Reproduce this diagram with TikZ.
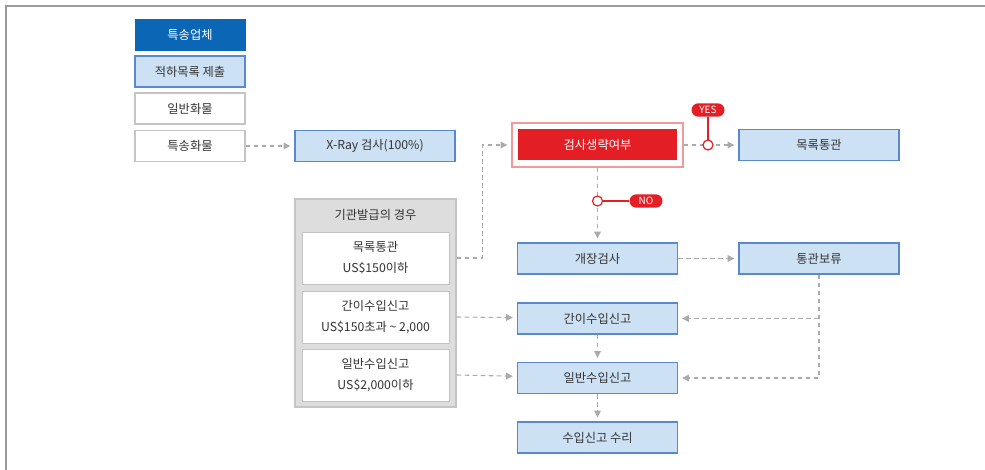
\documentclass[tikz,border=0pt]{standalone}
\usepackage{fontspec}
\setmainfont{Noto Sans CJK KR}
\usepackage{tikz}
\usetikzlibrary{arrows.meta}
\definecolor{cusInk}{HTML}{333333}
\definecolor{cusNavy}{HTML}{0B66B5}
\definecolor{cusSky}{HTML}{CDE1F5}
\definecolor{cusEdge}{HTML}{5A88CF}
\definecolor{cusRed}{HTML}{E31E24}
\definecolor{cusPink}{HTML}{F29A9A}
\definecolor{cusArrow}{HTML}{ABABAB}
\definecolor{cusPanel}{HTML}{DDDDDD}
\definecolor{cusPanelLine}{HTML}{C4C4C4}
\definecolor{cusFrame}{HTML}{9A9A9A}
\tikzset{
    company/.style={draw=cusNavy, fill=cusNavy, text=white, minimum width=82.5pt, minimum height=23.25pt, inner sep=0pt},
    manifest/.style={draw=cusEdge, line width=1pt, fill=cusSky, text=cusInk, minimum width=82.5pt, minimum height=23.25pt, inner sep=0pt},
    cargo/.style={draw=cusPanelLine, line width=0.8pt, fill=white, text=cusInk, minimum width=82.5pt, minimum height=23.25pt, inner sep=0pt},
    proc/.style={draw=cusEdge, line width=1pt, fill=cusSky, text=cusInk, minimum width=120pt, minimum height=23.25pt, inner sep=0pt},
    panel/.style={draw=cusPanelLine, line width=1pt, fill=cusPanel, minimum width=120.75pt, minimum height=156pt, inner sep=0pt},
    paneltitle/.style={text=cusInk, inner sep=0pt},
    rulebox/.style={draw=cusPanelLine, line width=0.6pt, fill=white, text=cusInk, align=center, minimum width=110.25pt, minimum height=39pt, inner sep=0pt, font=\fontsize{9.2}{15.5}\selectfont},
    skipframe/.style={draw=cusPink, line width=1pt, fill=white, minimum width=128.25pt, minimum height=33pt, inner sep=0pt},
    decision/.style={fill=cusRed, text=white, minimum width=119.25pt, minimum height=23.25pt, inner sep=0pt},
    pill/.style={fill=cusRed, text=white, rounded corners=5pt, minimum width=24.75pt, minimum height=10pt, inner sep=0pt, font=\fontsize{7.5}{8}\selectfont},
    joint/.style={circle, draw=cusRed, fill=white, line width=0.9pt, minimum size=7.5pt, inner sep=0pt},
    tagline/.style={draw=cusRed, line width=0.9pt},
    flow/.style={-{Triangle[length=5pt, width=5pt]}, draw=cusArrow, line width=0.8pt, dash pattern=on 3.5pt off 2.5pt, shorten >=3pt},
    frameline/.style={draw=cusFrame, line width=1.5pt}
}
\begin{document}
\begin{tikzpicture}[x=0.75pt, y=-0.75pt, font=\fontsize{9.2}{11}\selectfont]
    \useasboundingbox (0,0) rectangle (985,470);
    \draw[frameline] (985,6) -- (6,6) -- (6,470);
    \node[company] (courier) at (190,35) {특송업체};
    \node[manifest] (manifest) at (190,71.5) {적하목록 제출};
    \node[cargo] (general) at (190,108.5) {일반화물};
    \node[cargo] (express) at (190,146) {특송화물};
    \node[proc] (xray) at (375,146) {X-Ray 검사(100\%)};
    \node[panel] (panel) at (375.5,303) {};
    \node[paneltitle] (paneltitle) at (375.5,215) {기관발급의 경우};
    \node[rulebox] (listrule) at (375.5,258) {목록통관\\US\$150이하};
    \node[rulebox] (simplerule) at (375.5,317) {간이수입신고\\US\$150초과 \textasciitilde{} 2,000};
    \node[rulebox] (generalrule) at (375.5,375) {일반수입신고\\US\$2,000이하};
    \node[skipframe] (skip) at (597.5,145) {};
    \node[decision] (skiptext) at (597.5,145) {검사생략여부};
    \node[proc] (listclear) at (819,145) {목록통관};
    \node[proc] (open) at (597.5,258.5) {개장검사};
    \node[proc] (hold) at (819,258.5) {통관보류};
    \node[proc] (simple) at (597.5,318.5) {간이수입신고};
    \node[proc] (normal) at (597.5,378) {일반수입신고};
    \node[proc] (accept) at (597.5,437.5) {수입신고 수리};
    \node[pill] (yes) at (708,110) {YES};
    \node[pill] (no) at (646,201) {NO};
    \draw[flow] (express) -- (xray);
    \draw[flow] (listrule.east -| panel.east) -- ++(26,0) |- (skip);
    \draw[flow] (skip) -- (listclear);
    \draw[flow] (skip) -- (open);
    \draw[flow] (open) -- (hold);
    \draw[flow] (simplerule.east -| panel.east) -- (simple);
    \draw[flow] (generalrule.east -| panel.east) -- (normal);
    \draw[flow] (simple) -- (normal);
    \draw[flow] (normal) -- (accept);
    \draw[flow] (hold) |- (normal);
    \draw[flow] (hold.south |- simple.east) -- (simple);
    \draw[tagline] (yes) -- (yes |- listclear) node[joint] (yesjoint) {};
    \draw[tagline] (no) -- (no -| skip) node[joint] (nojoint) {};
\end{tikzpicture}
\end{document}
